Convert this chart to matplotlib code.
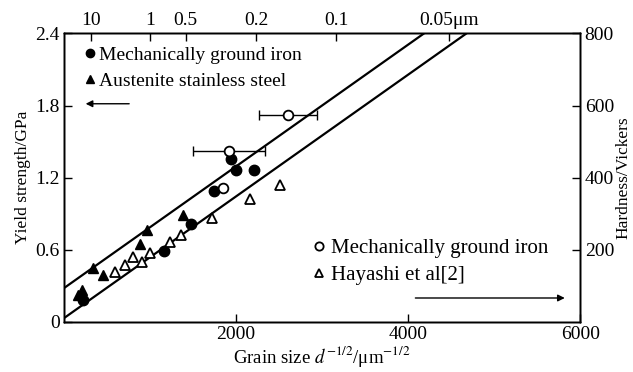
import numpy as np
import matplotlib
matplotlib.use("Agg")
import matplotlib.pyplot as plt

plt.rcParams['font.family'] = ['Liberation Serif', 'DejaVu Serif']
plt.rcParams['mathtext.fontset'] = 'stix'

# yield strength (GPa) vs d^-1/2
iron_x = [224, 1161, 1471, 1742, 1940, 1998, 2207]
iron_y = [0.180, 0.591, 0.818, 1.090, 1.351, 1.262, 1.262]

steel_x = [166, 205, 341, 449, 883, 968, 1378]
steel_y = [0.222, 0.264, 0.444, 0.389, 0.646, 0.763, 0.888]

# hardness (Vickers) vs d^-1/2
iron_hv_x = [1850, 1916, 2605]
iron_hv = [371, 473, 575]
iron_hv_err = [0, 415, 335]

hayashi_x = [592, 708, 805, 902, 999, 1231, 1357, 1723, 2160, 2509]
hayashi_hv = [139, 157, 179, 166, 190, 222, 240, 289, 340, 379]

# Hall-Petch bounds: sigma = sigma0 + k * d^-1/2
slope = 5.07e-4
upper_sigma0 = 0.28
lower_sigma0 = 0.03

# top axis: grain size in um
grain_um = [10, 1, 0.5, 0.2, 0.1, 0.05]
grain_labels = ['10', '1', '0.5', '0.2', '0.1', '0.05μm']

fig = plt.figure(figsize=(6.33, 3.72), dpi=100)
ax = fig.add_axes([0.101, 0.135, 0.816, 0.775])
ax_r = ax.twinx()
ax_t = ax.twiny()

xs = np.linspace(0, 6000, 200)
ax.plot(xs, upper_sigma0 + slope * xs, color='black', lw=1.6)
ax.plot(xs, lower_sigma0 + slope * xs, color='black', lw=1.6)

ax.plot(iron_x, iron_y, 'o', color='black', ms=7.5, label='Mechanically ground iron')
ax.plot(steel_x, steel_y, '^', color='black', ms=7.5, label='Austenite stainless steel')

err = np.array(iron_hv_err)
has_err = err > 0
ax_r.errorbar(np.array(iron_hv_x)[has_err], np.array(iron_hv)[has_err], xerr=err[has_err],
              fmt='none', ecolor='black', elinewidth=1, capsize=3.5, capthick=1)
ax_r.plot(iron_hv_x, iron_hv, 'o', mfc='white', mec='black', mew=1.3, ms=7,
          label='Mechanically ground iron')
ax_r.plot(hayashi_x, hayashi_hv, '^', mfc='white', mec='black', mew=1.3, ms=7.5,
          label='Hayashi et al[2]')

ax.set_xlim(0, 6000)
ax.set_ylim(0, 2.4)
ax_r.set_ylim(0, 800)
ax_t.set_xlim(0, 6000)

ax.set_xticks([2000, 4000, 6000])
ax.set_yticks([0, 0.6, 1.2, 1.8, 2.4])
ax.set_yticklabels(['0', '0.6', '1.2', '1.8', '2.4'])
ax_r.set_yticks([200, 400, 600, 800])

# d^-1/2 in the bottom axis units for each labelled grain size
top_pos = [1000 / np.sqrt(d) for d in grain_um]
ax_t.set_xticks(top_pos)
ax_t.set_xticklabels(grain_labels)

for a in (ax, ax_r, ax_t):
    a.tick_params(direction='in', length=6, width=1, labelsize=14, pad=3)
    for s in a.spines.values():
        s.set_linewidth(1)
ax.tick_params(right=False, top=False)

ax.set_xlabel('Grain size $d^{-1/2}$/μm$^{-1/2}$', fontsize=13.5, labelpad=1)
ax.set_ylabel('Yield strength/GPa', fontsize=12.5, labelpad=3)
ax_r.set_ylabel('Hardness/Vickers', fontsize=12.5, labelpad=1)

ax.legend(loc='upper left', bbox_to_anchor=(0.015, 1.003), frameon=False, fontsize=14,
          handlelength=0.5, handletextpad=0.2, labelspacing=0.45, markerscale=0.8,
          borderaxespad=0.3)
ax_r.legend(loc='lower left', bbox_to_anchor=(0.452, 0.07), frameon=False, fontsize=15,
            handlelength=0.5, handletextpad=0.3, labelspacing=0.35, markerscale=0.85,
            borderaxespad=0.4)

# arrows pointing at the axis each series belongs to
ax.annotate('', xy=(220, 1.815), xytext=(790, 1.815),
            arrowprops=dict(arrowstyle='-|>', color='black', lw=1, mutation_scale=10))
ax_r.annotate('', xy=(5850, 66), xytext=(4050, 66),
              arrowprops=dict(arrowstyle='-|>', color='black', lw=1, mutation_scale=10))

fig.savefig('out.png', dpi=100)
